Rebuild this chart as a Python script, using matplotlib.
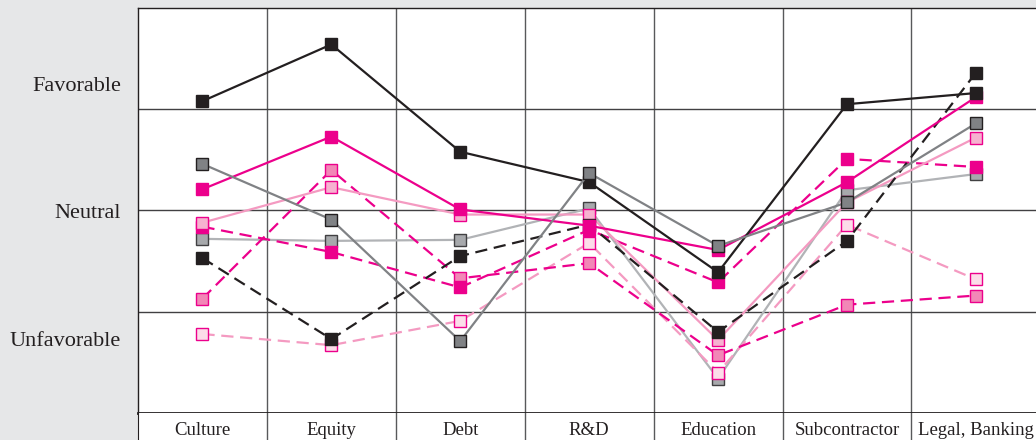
import matplotlib
matplotlib.use("Agg")
import matplotlib.pyplot as plt

categories = ["Culture", "Equity", "Debt", "R&D", "Education", "Subcontractor", "Legal, Banking"]
y_labels = ["Favorable", "Neutral", "Unfavorable"]
y_label_pos = [1.25, 0.0, -1.27]

s_black_solid = [1.08, 1.64, 0.58, 0.28, -0.61, 1.05, 1.16]
s_black_dash = [-0.47, -1.27, -0.45, -0.14, -1.20, -0.30, 1.36]
s_mag_solid = [0.21, 0.73, 0.01, -0.15, -0.39, 0.28, 1.12]
s_mag_dash = [-0.16, -0.41, -0.76, -0.19, -0.71, 0.51, 0.43]
s_dgray = [0.46, -0.09, -1.29, 0.37, -0.35, 0.08, 0.86]
s_lgray = [-0.28, -0.30, -0.29, 0.02, -1.66, 0.20, 0.36]
s_lpink_solid = [-0.12, 0.23, -0.04, -0.04, -1.28, 0.08, 0.72]
s_mpink_dash = [-0.87, 0.40, -0.67, -0.52, -1.43, -0.93, -0.84]
s_xpink_dash = [-1.22, -1.33, -1.09, -0.32, -1.60, -0.14, -0.68]

BLACK = "#231f20"
MAG = "#ec008c"
fig = plt.figure(figsize=(10.36, 4.4), dpi=100)
fig.patch.set_facecolor("#e6e7e8")

W, H = 1036.0, 440.0
left = 138 / W
right_px = 138 + 7 * 128.9
ax = fig.add_axes([left, (H - 413) / H, (right_px - 138) / W, (413 - 8) / H])
axl = fig.add_axes([left, 0, (right_px - 138) / W, (H - 413) / H])

x = list(range(len(categories)))
DASH = (0, (5.5, 3))
styles = [
    (s_lgray, dict(color="#b1b3b6", ls="-", mfc="#a7a9ac", mec="#414042")),
    (s_xpink_dash, dict(color="#f49ac1", ls=DASH, mfc="#fcdde9", mec=MAG)),
    (s_mpink_dash, dict(color=MAG, ls=DASH, mfc="#f287b7", mec=MAG)),
    (s_mag_dash, dict(color=MAG, ls=DASH, mfc=MAG, mec=MAG)),
    (s_lpink_solid, dict(color="#f49ac1", ls="-", mfc="#f6b2d0", mec=MAG)),
    (s_black_dash, dict(color=BLACK, ls=DASH, mfc=BLACK, mec=BLACK)),
    (s_mag_solid, dict(color=MAG, ls="-", mfc=MAG, mec=MAG)),
    (s_black_solid, dict(color=BLACK, ls="-", mfc=BLACK, mec=BLACK)),
    (s_dgray, dict(color="#808285", ls="-", mfc="#808285", mec="#231f20")),
]
for vals, st in styles:
    ax.plot(x, vals, marker="s", markersize=8.5, lw=1.6, markeredgewidth=1.0,
            color=st["color"], linestyle=st["ls"], mfc=st["mfc"], mec=st["mec"],
            zorder=3)

ax.set_xlim(-0.5, 6.5)
ax.set_ylim(-2, 2)
for xv in [i + 0.5 for i in range(6)]:
    ax.axvline(xv, color="#58595b", lw=1.0, zorder=1)
for yv in [-1, 0, 1]:
    ax.axhline(yv, color="#414042", lw=1.0, zorder=1)
ax.set_xticks([])
ax.set_yticks([])
ax.spines["right"].set_visible(False)
ax.spines["left"].set_color(BLACK)
ax.spines["left"].set_linewidth(1.0)
ax.spines["bottom"].set_color(BLACK)
ax.spines["bottom"].set_linewidth(2.0)
ax.spines["top"].set_color(BLACK)
ax.spines["top"].set_linewidth(1.0)

for lab, yp in zip(y_labels, y_label_pos):
    ax.text(-0.63, yp, lab, ha="right", va="center_baseline", fontsize=16,
            family="Liberation Serif", color=BLACK, clip_on=False)

axl.set_xlim(-0.5, 6.5)
axl.set_ylim(0, 1)
axl.set_xticks([])
axl.set_yticks([])
for side in ["top", "right", "bottom"]:
    axl.spines[side].set_visible(False)
axl.spines["left"].set_color(BLACK)
for xv in [i + 0.5 for i in range(6)]:
    axl.axvline(xv, color="#58595b", lw=1.0)
for i, c in enumerate(categories):
    axl.text(i, 0.36, c, ha="center", va="center", fontsize=13.5,
             family="Liberation Serif", color=BLACK)

fig.savefig("out.png", dpi=100, facecolor=fig.get_facecolor())
